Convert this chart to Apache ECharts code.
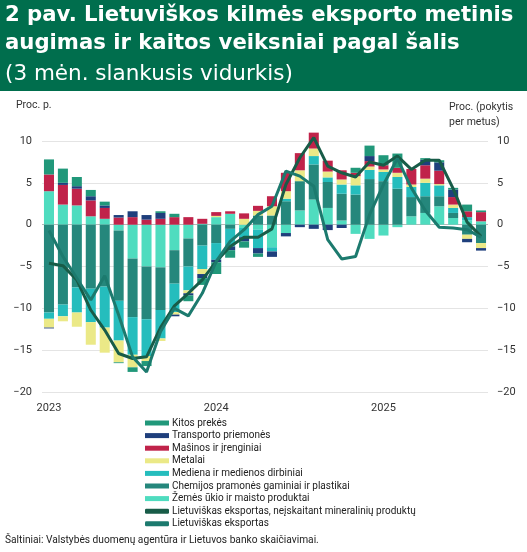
<!DOCTYPE html>
<html>
<head>
<meta charset="utf-8">
<script src="https://cdn.jsdelivr.net/npm/echarts@6/dist/echarts.min.js"></script>
<style>
  html, body { margin: 0; padding: 0; background: #fff; }
  #chart { width: 527px; height: 552px; }
</style>
</head>
<body>
<div id="chart"></div>
<script>
// months Jan 2023 .. Aug 2025
const months = [
  '2023-01','2023-02','2023-03','2023-04','2023-05','2023-06','2023-07','2023-08','2023-09','2023-10','2023-11','2023-12',
  '2024-01','2024-02','2024-03','2024-04','2024-05','2024-06','2024-07','2024-08','2024-09','2024-10','2024-11','2024-12',
  '2025-01','2025-02','2025-03','2025-04','2025-05','2025-06','2025-07','2025-08'
];

// contributions, proc. p.
const zemesUkio = [4.0, 2.4, 2.3, 1.0, 0.7, -0.7, -4.05, -5.0, -5.1, -3.05, -1.65, 0.1, 0.9, 1.3, -0.4, -0.6, -2.7, -1.0, 1.7, 3.0, 2.0, 0.5, -1.1, -1.7, -1.3, -0.3, 1.0, 1.4, 2.2, 0.8, 0.5, 0.4];
const chemijos = [-10.5, -9.55, -7.5, -7.65, -7.4, -8.4, -7.0, -6.3, -5.1, -4.0, -3.35, -2.5, -2.2, -0.5, 0, 1.1, 1.1, 2.8, 3.5, 4.2, 3.1, 3.2, 3.6, 5.45, 5.2, 4.3, 2.3, 2.0, 1.2, 0.6, -1.2, -2.2];
const mediena = [-0.75, -1.4, -3.0, -4.0, -4.9, -4.75, -4.5, -4.4, -3.4, -3.4, -2.85, -2.8, -2.0, -2.1, -1.1, -2.2, -0.5, 0.3, 0, 1.0, 0.55, 1.1, 1.1, 1.1, 1.1, 1.4, 1.2, 1.6, 1.3, 0.6, 0.4, 0];
const metalai = [-1.05, -0.6, -1.7, -2.7, -3.0, -2.6, -1.5, -0.6, -0.3, -0.3, -0.35, -0.6, 0.15, 0, 0.7, 0.55, 1.1, 0.9, 1.3, 0.9, 0.7, 0.6, 1.1, 0.4, 0.3, 0.5, 0.3, 0.5, 0.15, 0.4, -0.5, -0.6];
const masinos = [2.0, 2.35, 2.0, 1.9, 1.3, 0.85, 0.9, 0.6, 0.7, 0.9, 0.9, 0.6, 0.45, 0.3, 0.65, 0.6, 1.2, 2.2, 2.05, 1.9, 1.3, 1.1, 0.4, 0.65, 0.5, 0.6, 1.85, 1.6, 1.6, 0.9, 0.7, 1.1];
const transporto = [-0.1, 0.25, 0.3, 0.5, 0.3, 0.3, 0.7, 0.55, 0.7, -0.2, -0.25, -0.5, -0.3, -0.45, -0.5, -0.65, -0.65, -0.4, -0.3, -0.5, -0.65, -0.4, 0, 0.6, 0, 0, 0, 0.65, 1.0, 0.9, -0.4, -0.3];
const kitos = [1.8, 1.7, 1.1, 0.75, 0.45, -0.1, -0.55, -0.6, 0.2, 0.4, -0.7, -0.8, -1.4, -0.9, -0.75, -0.4, 0, 0, 0, 0, 0, 0, 0.6, 1.25, 1.2, 1.7, 0, 0.2, 0.25, 0.2, 0.8, 0.2];

// growth, proc. per metus
const eksportasBeMin = [-4.6, -4.9, -6.6, -10.2, -12.6, -15.4, -16.0, -15.8, -12.3, -9.7, -8.2, -6.6, -4.4, -2.6, -1.5, -1.5, -0.5, 4.8, 8.0, 10.4, 7.0, 6.2, 5.7, 7.5, 7.1, 8.2, 6.6, 7.7, 7.7, 4.3, 0.3, -1.4];
const eksportas = [-0.7, -3.8, -6.4, -9.0, -6.1, -10.8, -15.8, -17.6, -12.8, -10.0, -10.9, -8.2, -4.4, -2.0, -0.6, 1.2, 2.2, 6.4, 5.8, 4.6, -1.8, -4.1, -3.8, 1.2, 4.8, 7.9, 4.4, 1.7, -0.3, -0.4, -0.6, -1.5];

const yTicks = [-20, -15, -10, -5, 0, 5, 10];

const chart = echarts.init(document.getElementById('chart'));

const font = 'Roboto';
const fmt = v => (v < 0 ? '\u2212' + Math.abs(v) : String(v));

function bar(name, data, color) {
    return {
        name, type: 'bar', stack: 'k', data,
        barCategoryGap: '28%',
        itemStyle: { color },
        clip: false
    };
}

function line(name, data, color) {
    return {
        name, type: 'line', yAxisIndex: 1, data,
        symbol: 'none', clip: false, z: 5,
        lineStyle: { color, width: 3 },
        itemStyle: { color }
    };
}

const option = {
    animation: false,
    textStyle: { fontFamily: font },
    grid: { left: 42, right: 39, top: 141, bottom: 160 },
    graphic: [
        { type: 'rect', shape: { x: 0, y: 0, width: 527, height: 91 }, style: { fill: '#006e4d' } },
        { type: 'text', left: 5, top: 5, style: { text: '2 pav. Lietuviškos kilmės eksporto metinis', fill: '#fff', font: 'bold 21.2px "DejaVu Sans"' } },
        { type: 'text', left: 5, top: 33, style: { text: 'augimas ir kaitos veiksniai pagal šalis', fill: '#fff', font: 'bold 21.2px "DejaVu Sans"' } },
        { type: 'text', left: 5, top: 63, style: { text: '(3 mėn. slankusis vidurkis)', fill: '#fff', font: '21.5px "DejaVu Sans"' } },
        { type: 'text', left: 16, top: 100, style: { text: 'Proc. p.', fill: '#333', font: '10.5px Roboto' } },
        { type: 'text', left: 449, top: 100, style: { text: 'Proc. (pokytis\nper metus)', fill: '#333', font: '10.5px Roboto', lineHeight: 15 } },
        { type: 'text', left: 5, top: 535, style: { text: 'Šaltiniai: Valstybės duomenų agentūra ir Lietuvos banko skaičiavimai.', fill: '#222', font: '10.2px Roboto' } }
    ],
    legend: {
        orient: 'vertical', left: 140, top: 413,
        itemWidth: 24, itemHeight: 5, itemGap: 2.6,
        textStyle: { fontSize: 10, color: '#222', fontFamily: font, padding: [0, 0, 0, -2] },
        data: [
            { name: 'Kitos prekės', icon: 'rect' },
            { name: 'Transporto priemonės', icon: 'rect' },
            { name: 'Mašinos ir įrenginiai', icon: 'rect' },
            { name: 'Metalai', icon: 'rect' },
            { name: 'Mediena ir medienos dirbiniai', icon: 'rect' },
            { name: 'Chemijos pramonės gaminiai ir plastikai', icon: 'rect' },
            { name: 'Žemės ūkio ir maisto produktai', icon: 'rect' },
            { name: 'Lietuviškas eksportas, neįskaitant mineralinių produktų', icon: 'roundRect' },
            { name: 'Lietuviškas eksportas', icon: 'roundRect' }
        ]
    },
    xAxis: {
        type: 'category', data: months,
        axisLine: { show: false }, axisTick: { show: false },
        axisLabel: {
            interval: i => i % 12 === 0,
            formatter: v => v.slice(0, 4),
            color: '#333', fontSize: 11, margin: 11
        }
    },
    yAxis: [
        {
            type: 'value', min: yTicks[0], max: yTicks[yTicks.length - 1], interval: 5,
            axisLabel: { formatter: fmt, color: '#333', fontSize: 11, margin: 10 },
            splitLine: { lineStyle: { color: ['#e4e4e4', '#e4e4e4', '#e4e4e4', '#e4e4e4', '#b8b8b8', '#e4e4e4', '#e4e4e4'], width: 1 } }
        },
        {
            type: 'value', min: yTicks[0], max: yTicks[yTicks.length - 1], interval: 5,
            position: 'right',
            axisLabel: { formatter: fmt, color: '#333', fontSize: 11, margin: 9 },
            splitLine: { show: false }
        }
    ],
    series: [
        bar('Žemės ūkio ir maisto produktai', zemesUkio, '#4fdcbf'),
        bar('Chemijos pramonės gaminiai ir plastikai', chemijos, '#25877c'),
        bar('Mediena ir medienos dirbiniai', mediena, '#25bdbd'),
        bar('Metalai', metalai, '#ebe987'),
        bar('Mašinos ir įrenginiai', masinos, '#c0234a'),
        bar('Transporto priemonės', transporto, '#1f3f7c'),
        bar('Kitos prekės', kitos, '#21987a'),
        line('Lietuviškas eksportas, neįskaitant mineralinių produktų', eksportasBeMin, '#185c48'),
        line('Lietuviškas eksportas', eksportas, '#1c7a6e')
    ]
};

chart.setOption(option);
</script>
</body>
</html>
